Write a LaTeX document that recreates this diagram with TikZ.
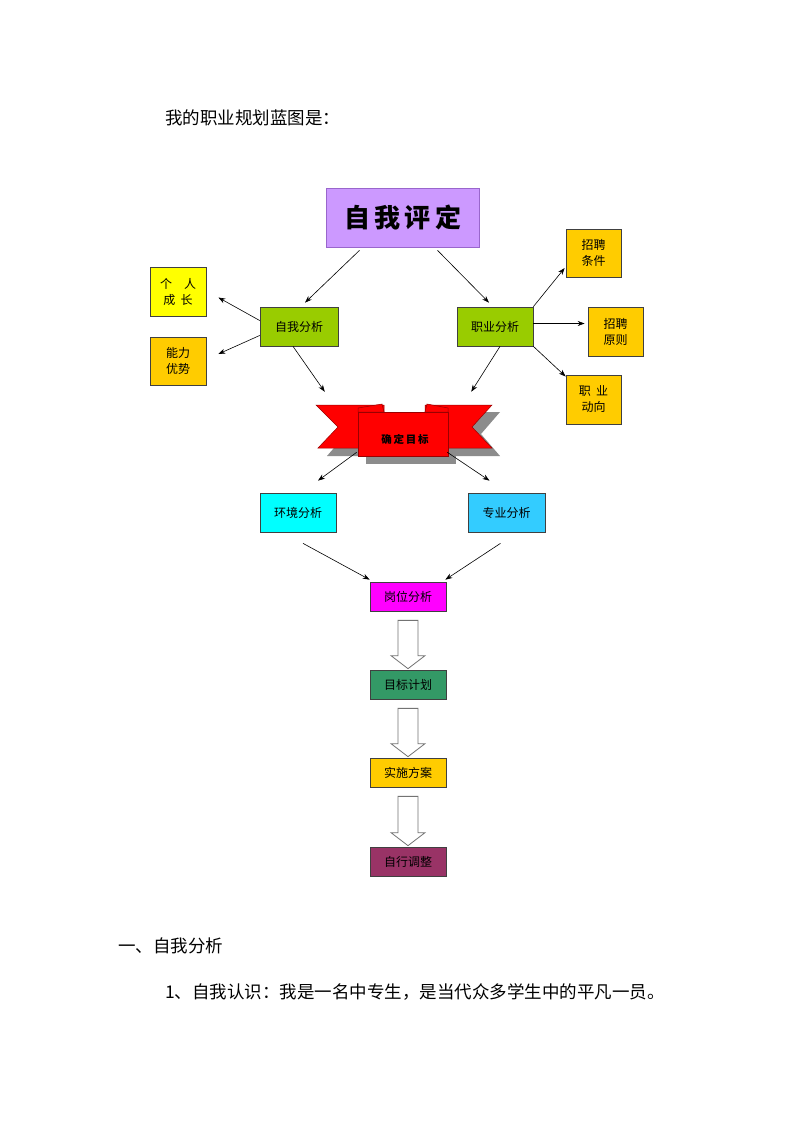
\documentclass[tikz,border=0pt]{standalone}
\usepackage{fontspec}
\newfontfamily\cjk{Noto Sans CJK SC}
\usetikzlibrary{arrows.meta,calc}
\definecolor{lav}{HTML}{CC99FF}
\definecolor{lavb}{HTML}{9966CC}
\definecolor{grn}{HTML}{99CC00}
\definecolor{yel}{HTML}{FFFF00}
\definecolor{org}{HTML}{FFCC00}
\definecolor{cyn}{HTML}{00FFFF}
\definecolor{sky}{HTML}{33CCFF}
\definecolor{mag}{HTML}{FF00FF}
\definecolor{dgrn}{HTML}{339966}
\definecolor{plum}{HTML}{993366}
\definecolor{rbred}{HTML}{FF0000}
\definecolor{rbline}{HTML}{990000}
\definecolor{shad}{HTML}{8C8C8C}
\tikzset{
  box/.style={draw=black!75, line width=0.7pt, inner sep=0pt, align=center,
    font=\cjk\fontsize{12}{16}\selectfont},
  arr/.style={draw=black, line width=0.6pt, -{Stealth[length=7pt,width=5pt]}},
  harrow/.style={draw=black!55, fill=white, line width=0.8pt, line join=miter},
  txt/.style={inner sep=0pt, anchor=west, font=\cjk\fontsize{17.5}{20}\selectfont}
}
\newcommand{\hollowarrow}[2]{%
  \draw[harrow] ($(#1.south)+(-10,9)$) -- ($(#1.south)+(10,9)$) -- ($(#2.north)+(10,-14)$)
    -- ($(#2.north)+(17,-14)$) -- ($(#2.north)+(0,-1)$) -- ($(#2.north)+(-17,-14)$)
    -- ($(#2.north)+(-10,-14)$) -- cycle;}
\begin{document}
\begin{tikzpicture}[x=1pt,y=-1pt]
\useasboundingbox[fill=white] (0,0) rectangle (793,1122);

\node[txt] (title) at (165,118) {我的职业规划蓝图是：};

% top box
\node[box, fill=lav, draw=lavb, minimum width=153pt, minimum height=59pt,
  font=\cjk\bfseries\fontsize{26}{30}\selectfont] (pd) at (402.5,217.5) {自\,我\,评\,定};

\node[box, fill=grn, minimum width=78pt, minimum height=39pt] (zwfx) at (299,326.5) {自我分析};
\node[box, fill=grn, minimum width=76pt, minimum height=39pt] (zyfx) at (495,326.5) {职业分析};

\node[box, fill=yel, minimum width=56pt, minimum height=49pt] (grcz) at (178,291.5) {个\quad 人\\成\ \ 长};
\node[box, fill=org, minimum width=56pt, minimum height=48pt] (nlys) at (178,361) {能力\\优势};

\node[box, fill=org, minimum width=55pt, minimum height=48pt] (zptj) at (593.5,253) {招聘\\条件};
\node[box, fill=org, minimum width=55pt, minimum height=49pt] (zpyz) at (615.5,331.5) {招聘\\原则};
\node[box, fill=org, minimum width=55pt, minimum height=49pt] (zydx) at (593.5,399.5) {职\ \ 业\\动向};

% ribbon
\fill[shad] (325,412) -- (392,412) -- (392,456) -- (327,456) -- (346,434) -- cycle;
\fill[shad] (433,412) -- (500,412) -- (481,434) -- (500,456) -- (433,456) -- cycle;
\fill[shad] (366,420) rectangle (456,464);
\draw[fill=rbred, draw=rbline, line width=0.5pt] (316,405) -- (384,405) -- (384,448) -- (318,448) -- (338,427) -- cycle;
\draw[fill=rbred, draw=rbline, line width=0.5pt] (425,405) -- (492,405) -- (472,427) -- (492,448) -- (425,448) -- cycle;
\draw[fill=rbred, draw=rbline, line width=0.5pt] (358,412) -- (358,408) -- (382,404) -- (384,412) -- cycle;
\draw[fill=rbred, draw=rbline, line width=0.5pt] (425,412) -- (427,404) -- (448,408) -- (448,412) -- cycle;
\node[draw=rbline, fill=rbred, line width=0.5pt, inner sep=0pt, minimum width=90pt, minimum height=44pt] (qdmb) at (403,434) {};
\node[inner sep=0pt, font=\cjk\bfseries\fontsize{10.5}{12}\selectfont] (qdmbt) at ($(qdmb.center)+(2,5)$) {确\,定\,目\,标};

\node[box, fill=cyn, minimum width=76pt, minimum height=39pt] (hjfx) at (298,512.5) {环境分析};
\node[box, fill=sky, minimum width=77pt, minimum height=39pt] (zyfx2) at (506.5,512.5) {专业分析};

\node[box, fill=mag, minimum width=76pt, minimum height=29pt] (gwfx) at (408,596.5) {岗位分析};
\node[box, fill=dgrn, minimum width=76pt, minimum height=29pt] (mbjh) at (408,684.5) {目标计划};
\node[box, fill=org, minimum width=76pt, minimum height=29pt] (ssfa) at (408,772.5) {实施方案};
\node[box, fill=plum, minimum width=76pt, minimum height=29pt] (zxtz) at (408,861.5) {自行调整};

% connectors
\draw[arr] ($(pd.south)+(-43,3)$) -- ($(zwfx.north)+(6,-4)$);
\draw[arr] ($(pd.south)+(35,3)$) -- ($(zyfx.north)+(-6,-4)$);
\draw[arr] ($(zwfx.west)+(0,-6)$) -- ($(grcz.east)+(12,6)$);
\draw[arr] ($(zwfx.west)+(0,9)$) -- ($(nlys.east)+(12,-7)$);
\draw[arr] ($(zwfx.south)+(-6,0)$) -- ($(qdmb.north west)+(-33,-20)$);
\draw[arr] ($(zyfx.south)+(5,0)$) -- ($(qdmb.north east)+(23,-20)$);
\draw[arr] (zyfx.north east) -- ($(zptj.west)+(-1,15)$);
\draw[arr] ($(zyfx.east)+(0,-3)$) -- ($(zpyz.west)+(-3,-8)$);
\draw[arr] (zyfx.south east) -- ($(zydx.west)+(0,-23)$);
\draw[arr] ($(qdmb.south west)+(-1,-4)$) -- ($(hjfx.north)+(20,-12)$);
\draw[arr] ($(qdmb.south east)+(-1,-4)$) -- ($(zyfx2.north)+(-17,-12)$);
\draw[arr] ($(hjfx.south)+(5,11)$) -- ($(gwfx.north west)+(0,-2)$);
\draw[arr] ($(zyfx2.south)+(-6,11)$) -- ($(gwfx.north east)+(-1,-2)$);

\hollowarrow{gwfx}{mbjh}
\hollowarrow{mbjh}{ssfa}
\hollowarrow{ssfa}{zxtz}

\node[txt] (sec) at (118,946) {一、自我分析};
\node[txt] (para) at (165,992) {1、自我认识：我是一名中专生，是当代众多学生中的平凡一员。};
\end{tikzpicture}
\end{document}
